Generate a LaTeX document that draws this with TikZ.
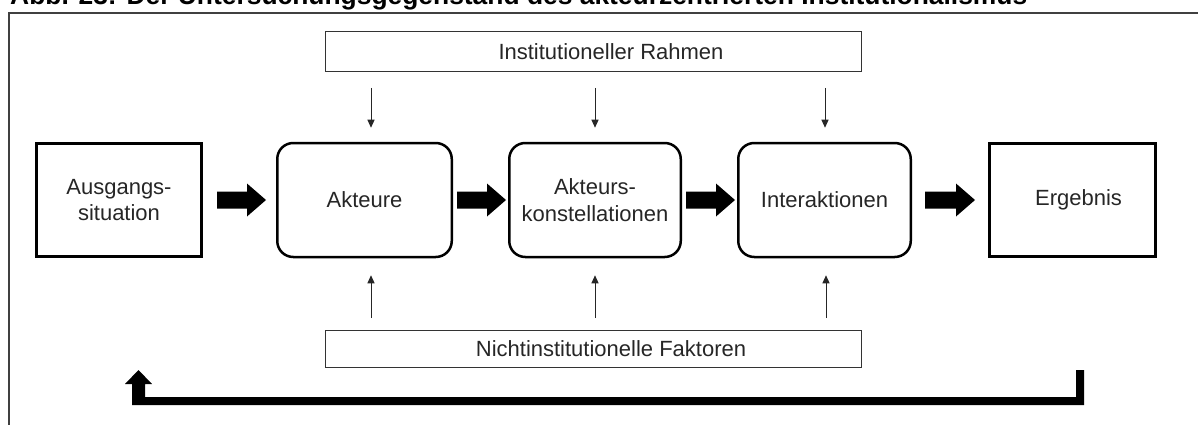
\documentclass[tikz,border=0pt]{standalone}
\usepackage{fontspec}
\setmainfont{Liberation Sans}
\usetikzlibrary{arrows.meta,calc}

% thick block arrow between two nodes: #1 from, #2 to, #3 gap after #1, #4 gap before #2
\newcommand{\blockarrow}[4]{%
  \fill[black] let \p1=($(#1.east)+(#3,0)$), \p2=($(#2.west)-(#4,0)$) in
    (\x1,\y1-8.5pt) -- (\x2-19pt,\y1-8.5pt) -- (\x2-19pt,\y1-16.5pt) -- (\x2,\y1)
    -- (\x2-19pt,\y1+16.5pt) -- (\x2-19pt,\y1+8.5pt) -- (\x1,\y1+8.5pt) -- cycle;}

\begin{document}
\begin{tikzpicture}[x=1pt,y=-1pt,
  txt/.style={text=black!85, font=\fontsize{22}{26.5}\selectfont, align=center, inner sep=0pt},
  mainbox/.style={txt, draw=black, line width=3pt, minimum width=165pt, minimum height=113pt},
  roundbox/.style={txt, draw=black, line width=2.5pt, rounded corners=16pt, minimum height=114pt},
  framebox/.style={txt, draw=black!80, line width=1.3pt, minimum width=535.7pt},
  thinarrow/.style={draw=black!85, line width=1pt, -{Triangle[length=8pt,width=7pt]}}
]
\useasboundingbox (0,0) rectangle (1198,425);
\clip (0,0) rectangle (1198,425);

% heading and outer frame
\node[anchor=base west, inner sep=0pt, font=\fontsize{26.4}{30}\selectfont\bfseries] (title) at (10,5)
  {Abb. 23: Der Untersuchungsgegenstand des akteurzentrierten Institutionalismus};
\draw[black!75, line width=1.6pt] (9,430) -- (9,13) -- (1200,13);

% framing conditions
\node[framebox, minimum height=39.7pt] (inst) at (593.5,51.5) {\hspace*{35pt}Institutioneller Rahmen};
\node[framebox, minimum height=36.7pt] (nicht) at (593.5,349) {\hspace*{35pt}Nichtinstitutionelle Faktoren};

% main sequence
\node[mainbox] (aus) at (119,200) {Ausgangs-\\situation};
\node[roundbox, minimum width=174.5pt] (akt) at (364.5,200) {Akteure};
\node[roundbox, minimum width=171.5pt] (konst) at (595,200) {Akteurs-\\konstellationen};
\node[roundbox, minimum width=172.5pt] (inter) at (824.5,200) {Interaktionen};
\node[mainbox, minimum width=166pt] (erg) at (1072.5,200) {\hspace*{12pt}Ergebnis};

\blockarrow{aus}{akt}{14}{10}
\blockarrow{akt}{konst}{4}{2}
\blockarrow{konst}{inter}{4}{2}
\blockarrow{inter}{erg}{13}{13}

% influences from above
\draw[thinarrow] ($(akt.north |- inst.south)+(6.5,16)$) -- ($(akt.north)+(6.5,-14)$);
\draw[thinarrow] ($(konst.north |- inst.south)+(0,16)$) -- ($(konst.north)+(0,-14)$);
\draw[thinarrow] ($(inter.north |- inst.south)+(0.5,16)$) -- ($(inter.north)+(0.5,-14)$);

% influences from below
\draw[thinarrow] ($(akt.south |- nicht.north)+(6.5,-12)$) -- ($(akt.south)+(6.5,17)$);
\draw[thinarrow] ($(konst.south |- nicht.north)+(0,-12)$) -- ($(konst.south)+(0,17)$);
\draw[thinarrow] ($(inter.south |- nicht.north)+(1.5,-12)$) -- ($(inter.south)+(1.5,17)$);

% feedback from the result back to the starting situation
\coordinate (fbstart) at ($(erg.south)+(7.5,112)$);
\coordinate (fbend) at ($(aus.south)+(19.5,112)$);
\fill[black] let \p1=(fbstart), \p2=(fbend) in
  (\x1-4pt,\y1) -- (\x1+4pt,\y1) -- (\x1+4pt,\y1-35pt) -- (\x2-6.5pt,\y1-35pt)
  -- (\x2-6.5pt,\y2-14pt) -- (\x2-13.5pt,\y2-14pt) -- (\x2,\y2) -- (\x2+13.5pt,\y2-14pt)
  -- (\x2+6.5pt,\y2-14pt) -- (\x2+6.5pt,\y1-27pt) -- (\x1-4pt,\y1-27pt) -- cycle;
\end{tikzpicture}
\end{document}
